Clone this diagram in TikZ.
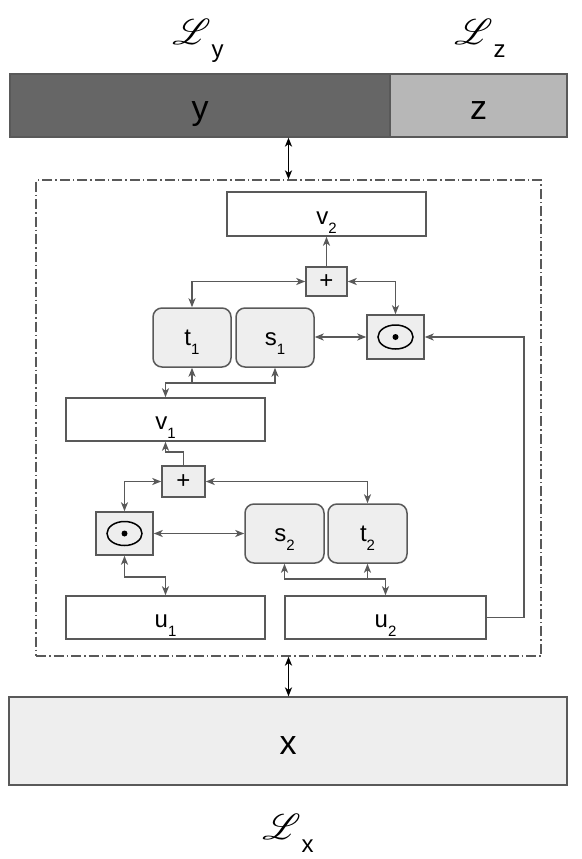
\documentclass[tikz,border=0pt]{standalone}
\usepackage{fontspec}
\usepackage{mathrsfs}
\setmainfont{Liberation Sans}
\usetikzlibrary{arrows.meta}

\definecolor{linegray}{HTML}{595959}
\definecolor{bardark}{HTML}{666666}
\definecolor{barlight}{HTML}{B7B7B7}
\definecolor{boxfill}{HTML}{EEEEEE}

\newcommand{\lbl}[2]{\fontsize{24}{24}\selectfont #1\raisebox{-9pt}{\fontsize{15}{15}\selectfont #2}}
\newcommand{\lossname}[1]{{\fontsize{10}{10}\selectfont\scalebox{3.6}{$\mathscr{L}$}}\hspace{1pt}\raisebox{-13pt}{\fontsize{24}{24}\selectfont #1}}

\tikzset{
  barbox/.style={draw=linegray,line width=1.2pt,inner sep=0pt,font=\fontsize{34}{34}\selectfont,text height=27pt,text depth=0pt},
  plainbox/.style={draw=linegray,line width=1.5pt,fill=white,inner sep=0pt,text height=20pt,text depth=0pt},
  opbox/.style={draw=linegray,line width=1.5pt,fill=boxfill,inner sep=0pt},
  netbox/.style={opbox,rounded corners=9pt,text height=16pt,text depth=0pt},
  odot/.style={opbox,path picture={
    \draw[black,line width=1.5pt] (path picture bounding box.center) ellipse (17.5pt and 12pt);
    \fill[black] (path picture bounding box.center) circle (3pt);}},
  tip/.style={Stealth[length=9pt,width=7pt,inset=2.5pt]},
  conn/.style={draw=linegray,line width=1.7pt,arrows={-Stealth[length=9pt,width=7pt,inset=2.5pt]}},
  biconn/.style={conn,arrows={Stealth[length=9pt,width=7pt,inset=2.5pt]-Stealth[length=9pt,width=7pt,inset=2.5pt]}},
  mainconn/.style={draw=black,line width=1.5pt,arrows={Stealth[length=9pt,width=7pt,inset=2.5pt]-Stealth[length=9pt,width=7pt,inset=2.5pt]}}
}

\begin{document}
\begin{tikzpicture}[x=1pt,y=-1pt]
\useasboundingbox (0,0) rectangle (581,859);

% latent and input bars
\node[barbox,fill=bardark,minimum width=380pt,minimum height=63pt] (ybar) at (200,105.5) {y};
\node[barbox,fill=barlight,minimum width=177pt,minimum height=63pt] (zbar) at (478.5,105.5) {z};
\node[barbox,fill=boxfill,minimum width=558pt,minimum height=88pt] (xbar) at (288,741) {x};

\node[anchor=base,inner sep=0pt] (Ly) at (198,45) {\lossname{y}};
\node[anchor=base,inner sep=0pt] (Lz) at (480,45) {\lossname{z}};
\node[anchor=base,inner sep=0pt] (Lx) at (288,839) {\lossname{x}};

% coupling block
\node[draw=linegray,line width=1.2pt,dash pattern=on 10pt off 3pt on 1.5pt off 3pt,minimum width=505pt,minimum height=476pt,inner sep=0pt] (blk) at (288.5,418) {};
\draw[mainconn] (blk.north) -- (blk.north |- ybar.south);
\draw[mainconn] (blk.south) -- (blk.south |- xbar.north);

\node[plainbox,minimum width=199pt,minimum height=44pt] (v2) at (326.5,214) {\lbl{v}{2}};
\node[opbox,minimum width=41pt,minimum height=29pt,font=\fontsize{24}{24}\selectfont] (plusA) at (326.5,281.5) {+};
\node[netbox,minimum width=78pt,minimum height=59pt] (t1) at (192,337.5) {\lbl{t}{1}};
\node[netbox,minimum width=78pt,minimum height=59pt] (s1) at (275,337.5) {\lbl{s}{1}};
\node[odot,minimum width=57pt,minimum height=44pt] (dotA) at (395.5,337) {};
\node[plainbox,minimum width=199pt,minimum height=43pt] (v1) at (165.5,419.5) {\lbl{v}{1}};
\node[opbox,minimum width=43pt,minimum height=31pt,font=\fontsize{24}{24}\selectfont] (plusB) at (183.5,481.5) {+};
\node[odot,minimum width=57pt,minimum height=43pt] (dotB) at (124.5,533.5) {};
\node[netbox,minimum width=79pt,minimum height=59pt] (s2) at (284.5,533.5) {\lbl{s}{2}};
\node[netbox,minimum width=79pt,minimum height=59pt] (t2) at (367.5,533.5) {\lbl{t}{2}};
\node[plainbox,minimum width=199pt,minimum height=43pt] (u1) at (165.5,617.5) {\lbl{u}{1}};
\node[plainbox,minimum width=201pt,minimum height=43pt] (u2) at (385.5,617.5) {\lbl{u}{2}};

\coordinate (j1) at (165.5,383);
\coordinate (j2) at (385.5,579);

\draw[conn] (plusA.north) -- (v2.south);
\draw[biconn] (plusA.west) -| (t1.north);
\draw[biconn] (plusA.east) -| (dotA.north);
\draw[biconn] (s1.east |- dotA.west) -- (dotA.west);
\draw[conn] (u2.east) -- ++(37,0) |- (dotA.east);
\draw[biconn] (v1.north) -- (j1) -| (s1.south);
\draw[conn] (t1.south |- j1) -- (t1.south);

\draw[conn] (plusB.north) -- ++(0,-13) -| (v1.south);
\draw[biconn] (plusB.west) -| (dotB.north);
\draw[biconn] (plusB.east) -| (t2.north);
\draw[biconn] (dotB.east) -- (s2.west |- dotB.east);
\draw[biconn] (dotB.south) -- ++(0,21) -| (u1.north);
\draw[biconn] (s2.south) |- (j2) -- (u2.north);
\draw[conn] (t2.south |- j2) -- (t2.south);
\end{tikzpicture}
\end{document}
